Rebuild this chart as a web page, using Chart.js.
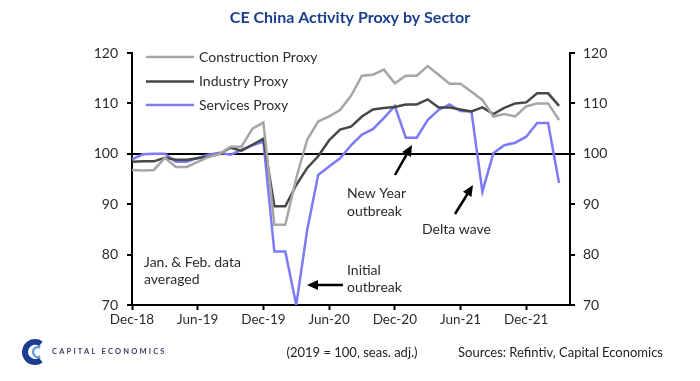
<!DOCTYPE html>
<html>
<head>
<meta charset="utf-8">
<script src="https://cdn.jsdelivr.net/npm/chart.js@4"></script>
<style>
  html, body { margin: 0; padding: 0; background: #fff; }
  #wrap { width: 700px; height: 381px; }
</style>
</head>
<body>
<div id="wrap"><canvas id="chart"></canvas></div>
<script>
const months = [
  'Dec-18', 'Jan-19', 'Feb-19', 'Mar-19', 'Apr-19', 'May-19', 'Jun-19', 'Jul-19', 'Aug-19', 'Sep-19', 'Oct-19', 'Nov-19',
  'Dec-19', 'Jan-20', 'Feb-20', 'Mar-20', 'Apr-20', 'May-20', 'Jun-20', 'Jul-20', 'Aug-20', 'Sep-20', 'Oct-20', 'Nov-20',
  'Dec-20', 'Jan-21', 'Feb-21', 'Mar-21', 'Apr-21', 'May-21', 'Jun-21', 'Jul-21', 'Aug-21', 'Sep-21', 'Oct-21', 'Nov-21',
  'Dec-21', 'Jan-22', 'Feb-22', 'Mar-22', 'Apr-22'
];
const construction = [96.8, 96.7, 96.8, 99.2, 97.4, 97.4, 98.4, 99.4, 100.0, 101.4, 101.4, 105.0, 106.2, 85.9, 85.9, 95.2, 102.8, 106.4, 107.4, 108.7,
  111.5, 115.5, 115.7, 116.7, 114.0, 115.5, 115.5, 117.4, 115.7, 113.9, 113.9, 112.3, 110.7, 107.4, 107.9, 107.4, 109.4, 110.0, 110.0, 106.7];
const industry = [98.4, 98.5, 98.5, 99.2, 98.8, 98.8, 99.1, 99.4, 100.0, 101.2, 100.6, 101.8, 103.0, 89.6, 89.6, 93.8, 97.2, 99.5, 102.7, 104.8,
  105.4, 107.4, 108.8, 109.1, 109.3, 109.8, 109.8, 110.8, 109.2, 109.2, 108.8, 108.4, 109.2, 107.9, 109.1, 110.0, 110.2, 112.0, 112.0, 109.5];
const services = [98.9, 99.9, 100.0, 100.0, 98.4, 98.4, 99.2, 99.8, 100.2, 99.8, 100.8, 101.7, 102.4, 80.6, 80.6, 70.0, 84.9, 95.8, 97.5, 99.1,
  101.7, 103.8, 104.9, 107.1, 109.5, 103.2, 103.2, 106.7, 108.7, 109.8, 108.5, 108.4, 92.5, 100.1, 101.7, 102.2, 103.4, 106.1, 106.1, 94.2];
const yTicks = [70, 80, 90, 100, 110, 120];

const FONT = 'Lato';
const TXT = '#2b2b2b';

// title, legend, notes, footer and logo
const extras = {
  id: 'extras',
  afterDraw(chart) {
    const ctx = chart.ctx;
    ctx.save();
    ctx.fillStyle = '#1b3e8f';
    ctx.font = 'bold 16px ' + FONT;
    ctx.textAlign = 'center';
    ctx.textBaseline = 'middle';
    ctx.fillText('CE China Activity Proxy by Sector', 350, 18);

    // legend
    ctx.textAlign = 'left';
    ctx.font = '14px ' + FONT;
    const rows = [[57, 0], [81.5, 1], [105, 2]];
    rows.forEach(([y, i]) => {
      const ds = chart.data.datasets[i];
      ctx.strokeStyle = ds.borderColor;
      ctx.lineWidth = 2.5;
      ctx.beginPath();
      ctx.moveTo(146, y);
      ctx.lineTo(194, y);
      ctx.stroke();
      ctx.fillStyle = TXT;
      ctx.fillText(ds.label, 199, y);
    });

    // notes
    ctx.fillStyle = TXT;
    ctx.fillText('Jan. & Feb. data', 144, 262);
    ctx.fillText('averaged', 144, 279);
    ctx.fillText('Initial', 347, 270);
    ctx.fillText('outbreak', 347, 287);
    ctx.fillText('New Year', 347, 193);
    ctx.fillText('outbreak', 347, 211);
    ctx.fillText('Delta wave', 422, 229);

    const arrow = (x1, y1, x2, y2) => {
      const a = Math.atan2(y2 - y1, x2 - x1);
      const hl = 11, hw = 5;
      ctx.strokeStyle = '#000';
      ctx.fillStyle = '#000';
      ctx.lineWidth = 2.5;
      ctx.beginPath();
      ctx.moveTo(x1, y1);
      ctx.lineTo(x2 - Math.cos(a) * hl * 0.8, y2 - Math.sin(a) * hl * 0.8);
      ctx.stroke();
      ctx.beginPath();
      ctx.moveTo(x2, y2);
      ctx.lineTo(x2 - Math.cos(a) * hl - Math.sin(a) * hw, y2 - Math.sin(a) * hl + Math.cos(a) * hw);
      ctx.lineTo(x2 - Math.cos(a) * hl + Math.sin(a) * hw, y2 - Math.sin(a) * hl - Math.cos(a) * hw);
      ctx.closePath();
      ctx.fill();
    };
    arrow(343, 285, 307, 285);
    arrow(395, 175, 412, 145);
    arrow(455, 214, 473, 185);

    // footer
    ctx.fillStyle = '#222';
    ctx.font = '13px ' + FONT;
    ctx.textAlign = 'center';
    ctx.fillText('(2019 = 100, seas. adj.)', 352, 353);
    ctx.textAlign = 'right';
    ctx.fillText('Sources: Refintiv, Capital Economics', 663, 353);

    // logo
    ctx.lineWidth = 6;
    ctx.strokeStyle = '#1c3d8f';
    ctx.beginPath();
    ctx.arc(35, 352, 10, 0.3 * Math.PI, 1.7 * Math.PI);
    ctx.stroke();
    ctx.lineWidth = 2.5;
    ctx.strokeStyle = '#6f9ee0';
    ctx.beginPath();
    ctx.arc(38, 352, 5, 0.35 * Math.PI, 1.65 * Math.PI);
    ctx.stroke();
    ctx.fillStyle = '#3a3f5c';
    ctx.font = 'bold 7.5px ' + FONT;
    ctx.textAlign = 'left';
    ctx.letterSpacing = '2.2px';
    ctx.fillText('CAPITAL ECONOMICS', 52, 352);
    ctx.restore();
  }
};

const yAxis = (pos, width, pad) => ({
  type: 'linear',
  position: pos,
  min: 70,
  max: 120,
  afterFit: s => { s.width = width; },
  afterBuildTicks: s => { s.ticks = yTicks.map(v => ({ value: v })); },
  grid: {
    drawOnChartArea: pos === 'left',
    color: c => (c.tick && c.tick.value === 100 ? '#000' : 'rgba(0,0,0,0)'),
    lineWidth: 2,
    tickColor: '#000',
    tickWidth: 2,
    tickLength: 5
  },
  border: { color: '#000', width: 2 },
  ticks: { color: TXT, padding: pad, font: { family: FONT, size: 14 } }
});

new Chart(
  document.getElementById('chart'),
  {
    type: 'line',
    data: {
      labels: months,
      datasets: [
        { label: 'Construction Proxy', data: construction, borderColor: '#a6a6a6', borderWidth: 2.5, pointRadius: 0, yAxisID: 'y' },
        { label: 'Industry Proxy', data: industry, borderColor: '#474747', borderWidth: 2.5, pointRadius: 0, yAxisID: 'y' },
        { label: 'Services Proxy', data: services, borderColor: '#7b7bf7', borderWidth: 2.5, pointRadius: 0, yAxisID: 'y' }
      ]
    },
    options: {
      responsive: true,
      maintainAspectRatio: false,
      animation: false,
      layout: { padding: { top: 53, left: 0, right: 0, bottom: 0 } },
      plugins: {
        legend: { display: false },
        tooltip: { enabled: false }
      },
      scales: {
        x: {
          afterFit: s => { s.height = 76; },
          grid: { drawOnChartArea: false, tickColor: '#000', tickWidth: 2, tickLength: 5 },
          border: { color: '#000', width: 2 },
          ticks: {
            autoSkip: false,
            maxRotation: 0,
            padding: 2,
            color: TXT,
            font: { family: FONT, size: 13.5 },
            callback: (v, i) => (i % 6 === 0 ? months[i] : null)
          }
        },
        y: yAxis('left', 132, 9),
        y2: yAxis('right', 130, 8)
      }
    },
    plugins: [extras]
  }
);
</script>
</body>
</html>
